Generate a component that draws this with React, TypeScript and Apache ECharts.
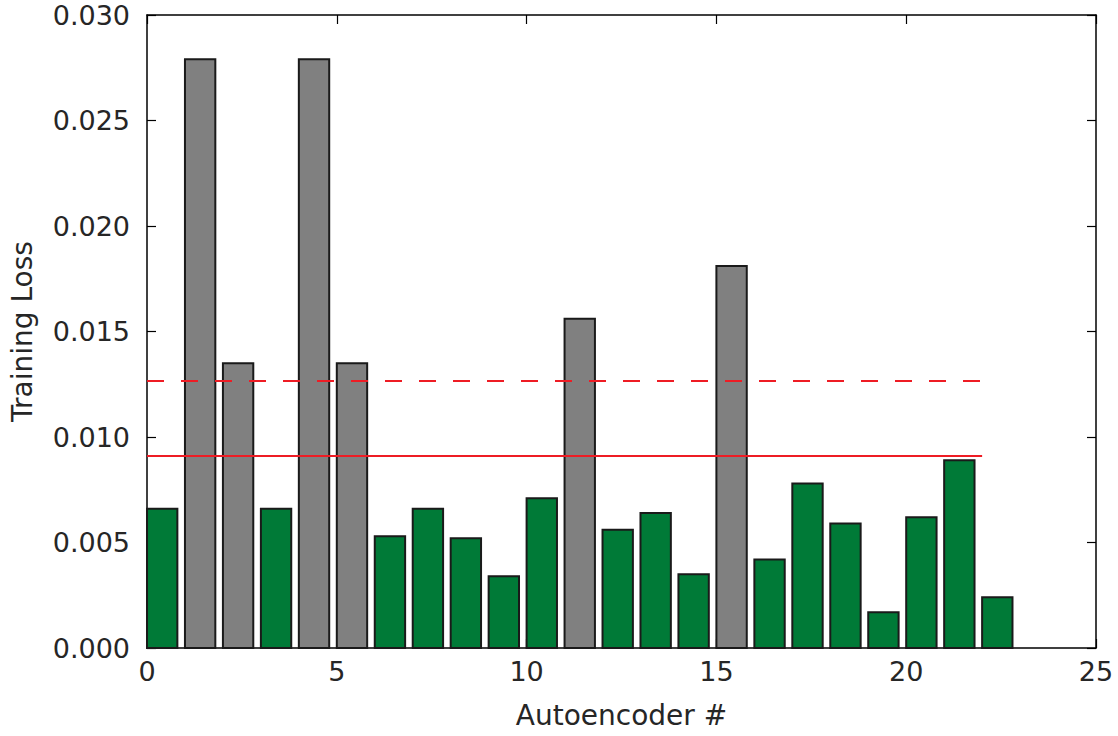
import React, { useEffect, useRef } from "react";
import * as echarts from "echarts";

const positions = [0, 1, 2, 3, 4, 5, 6, 7, 8, 9, 10, 11, 12, 13, 14, 15, 16, 17, 18, 19, 20, 21, 22];
const losses = [
  0.0066, 0.0279, 0.0135, 0.0066, 0.0279, 0.0135, 0.0053, 0.0066, 0.0052, 0.0034, 0.0071, 0.0156,
  0.0056, 0.0064, 0.0035, 0.0181, 0.0042, 0.0078, 0.0059, 0.0017, 0.0062, 0.0089, 0.0024,
];
const outlier = [
  false, true, true, false, true, true, false, false, false, false, false, true,
  false, false, false, true, false, false, false, false, false, false, false,
];
const barWidth = 0.8;
const dashedLevel = 0.01265;
const solidLevel = 0.0091;
const lineSpan = [0, 22];
const xTicks = [0, 5, 10, 15, 20, 25];
const yTicks = [0, 0.005, 0.01, 0.015, 0.02, 0.025, 0.03];

const GREEN = "#007a37";
const GREY = "#808080";
const FONT = "DejaVu Sans";

export default function App() {
  const ref = useRef<HTMLDivElement>(null);
  useEffect(() => {
    if (!ref.current) return;
    const chart = echarts.init(ref.current, undefined, { renderer: "svg" });
    const barData = positions.map((p, i) => [p, losses[i], outlier[i] ? 1 : 0]);
    const axisLine = { show: true, onZero: false, lineStyle: { color: "#000", width: 1.5 } };
    const axisTick = { show: true, inside: true, length: 9, lineStyle: { color: "#000", width: 1.2 } };
    const labelStyle = { color: "#262626", fontFamily: FONT, fontSize: 27 };
    const nameStyle = { color: "#262626", fontFamily: FONT, fontSize: 28 };
    chart.setOption({
      animation: false,
      backgroundColor: "#fff",
      grid: { left: 147, right: 22, top: 15, bottom: 88, containLabel: false },
      xAxis: [
        {
          type: "value",
          min: xTicks[0],
          max: xTicks[xTicks.length - 1],
          interval: 5,
          position: "bottom",
          axisLine,
          axisTick,
          splitLine: { show: false },
          axisLabel: { ...labelStyle, margin: 10 },
          name: "Autoencoder #",
          nameLocation: "middle",
          nameGap: 53,
          nameTextStyle: { ...nameStyle },
        },
        {
          type: "value",
          min: xTicks[0],
          max: xTicks[xTicks.length - 1],
          interval: 5,
          position: "top",
          axisLine,
          axisTick,
          splitLine: { show: false },
          axisLabel: { show: false },
        },
      ],
      yAxis: [
        {
          type: "value",
          min: yTicks[0],
          max: yTicks[yTicks.length - 1],
          interval: 0.005,
          position: "left",
          axisLine,
          axisTick,
          splitLine: { show: false },
          axisLabel: { ...labelStyle, margin: 17, formatter: (v: number) => v.toFixed(3) },
          name: "Training Loss",
          nameLocation: "middle",
          nameGap: 111,
          nameTextStyle: { ...nameStyle },
        },
        {
          type: "value",
          min: yTicks[0],
          max: yTicks[yTicks.length - 1],
          interval: 0.005,
          position: "right",
          axisLine,
          axisTick,
          splitLine: { show: false },
          axisLabel: { show: false },
        },
      ],
      series: [
        {
          type: "custom",
          xAxisIndex: 0,
          yAxisIndex: 0,
          data: barData,
          encode: { x: 0, y: 1 },
          renderItem: (params: any, api: any) => {
            const x0 = api.value(0);
            const v = api.value(1);
            const flag = api.value(2);
            const p1 = api.coord([x0, v]);
            const p2 = api.coord([x0 + barWidth, 0]);
            return {
              type: "rect",
              shape: { x: p1[0], y: p1[1], width: p2[0] - p1[0], height: p2[1] - p1[1] },
              style: { fill: flag ? GREY : GREEN, stroke: "#1a1a1a", lineWidth: 2 },
            };
          },
          z: 2,
        },
        {
          type: "line",
          data: [[lineSpan[0], dashedLevel], [lineSpan[1], dashedLevel]],
          symbol: "none",
          lineStyle: { color: "#ee1c24", width: 2, type: [17, 17] },
          z: 3,
        },
        {
          type: "line",
          data: [[lineSpan[0], solidLevel], [lineSpan[1], solidLevel]],
          symbol: "none",
          lineStyle: { color: "#ee1c24", width: 2 },
          z: 3,
        },
      ],
    });
    return () => chart.dispose();
  }, []);
  return (
    <div
      ref={ref}
      style={{ position: "fixed", left: 0, top: 0, width: 1118, height: 736 }}
    />
  );
}
